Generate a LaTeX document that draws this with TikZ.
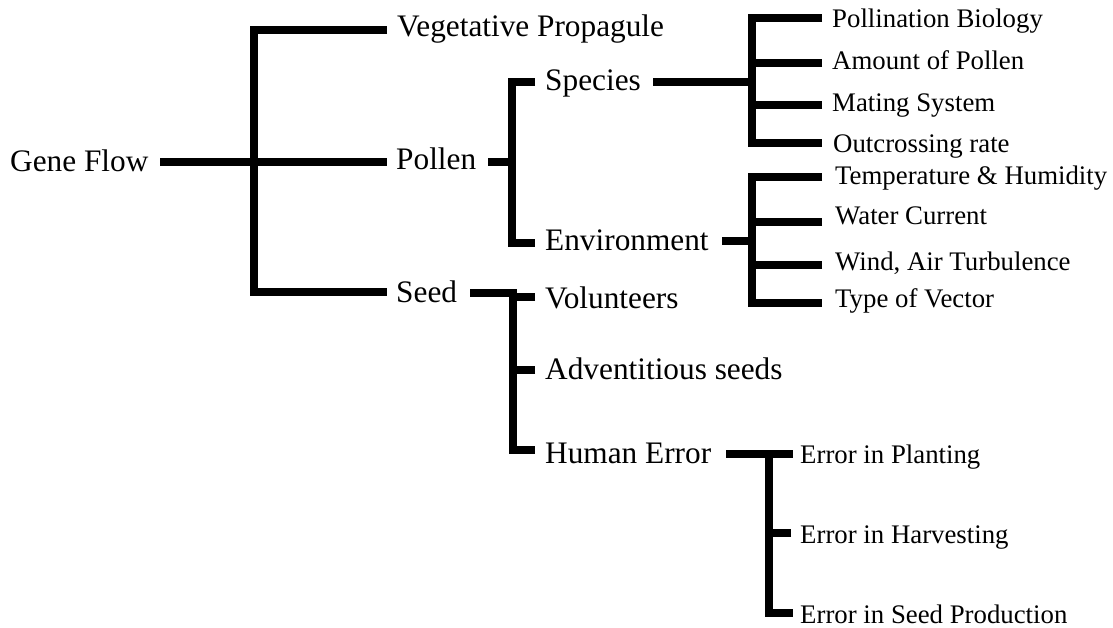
\documentclass[tikz,border=0pt]{standalone}
\usepackage{fontspec}
\setmainfont{Liberation Serif}
\begin{document}
\begin{tikzpicture}[x=1pt,y=-1pt,
  br/.style={line width=8pt, line join=miter, line cap=butt},
  big/.style={font=\fontsize{31.3}{36}\selectfont, anchor=base west, inner sep=0pt},
  small/.style={font=\fontsize{26.8}{30}\selectfont, anchor=base west, inner sep=0pt}]
\useasboundingbox (0,0) rectangle (1113,628);
% texts
\node[big] (gf) at (10,171.5) {Gene Flow};
\node[big] (veg) at (397,37) {Vegetative Propagule};
\node[big] (pol) at (396,170) {Pollen};
\node[big] (seed) at (396,302.5) {Seed};
\node[big] (spe) at (545,91) {Species};
\node[big] (env) at (545,251) {Environment};
\node[big] (vol) at (545,308) {Volunteers};
\node[big] (adv) at (545,379) {Adventitious seeds};
\node[big] (hum) at (545,463) {Human Error};
\node[small] (pb) at (832,28) {Pollination Biology};
\node[small] (ap) at (832,70) {Amount of Pollen};
\node[small] (ms) at (832,112) {Mating System};
\node[small] (oc) at (833,153) {Outcrossing rate};
\node[small] (th) at (835,185) {Temperature \& Humidity};
\node[small] (wc) at (835,225) {Water Current};
\node[small] (wa) at (835,270) {Wind, Air Turbulence};
\node[small] (tv) at (835,307) {Type of Vector};
\node[small] (ep) at (800,463) {Error in Planting};
\node[small] (eh) at (800,543) {Error in Harvesting};
\node[small] (es) at (800,623) {Error in Seed Production};
% connector end points
\coordinate (gfR) at (160,162);
\coordinate (vegL) at (387,30);
\coordinate (polL) at (387,162);
\coordinate (seedL) at (387,292);
\coordinate (polR) at (488,162);
\coordinate (speL) at (535,82);
\coordinate (envL) at (535,243);
\coordinate (speR) at (653,82);
\coordinate (envR) at (722,241);
\coordinate (seedR) at (470,293);
\coordinate (volL) at (535,297);
\coordinate (advL) at (535,370);
\coordinate (humL) at (535,450);
\coordinate (humR) at (726,454);
\coordinate (pbL) at (822,18.5);
\coordinate (apL) at (822,63);
\coordinate (msL) at (822,105);
\coordinate (ocL) at (822,143);
\coordinate (thL) at (822,177);
\coordinate (wcL) at (822,222);
\coordinate (waL) at (822,265);
\coordinate (tvL) at (822,303);
\coordinate (epL) at (793,454);
\coordinate (ehL) at (791,533);
\coordinate (esL) at (793,613);
% brackets
\draw[br] (vegL) -- (254,30) -- (254,292) -- (seedL);
\draw[br] (gfR) -- (polL);
\draw[br] (polR) -- (512,162);
\draw[br] (speL) -- (512,82) -- (512,243) -- (envL);
\draw[br] (speR) -- (752,82);
\draw[br] (pbL) -- (752,18.5) -- (752,143) -- (ocL);
\draw[br] (apL) -- (752,63);
\draw[br] (msL) -- (752,105);
\draw[br] (envR) -- (752,241);
\draw[br] (thL) -- (752,177) -- (752,303) -- (tvL);
\draw[br] (wcL) -- (752,222);
\draw[br] (waL) -- (752,265);
\draw[br] (seedR) -- (513,293) -- (513,450) -- (humL);
\draw[br] (volL) -- (513,297);
\draw[br] (advL) -- (513,370);
\draw[br] (humR) -- (epL);
\draw[br] (769,454) -- (769,613) -- (esL);
\draw[br] (ehL) -- (769,533);
\end{tikzpicture}
\end{document}
